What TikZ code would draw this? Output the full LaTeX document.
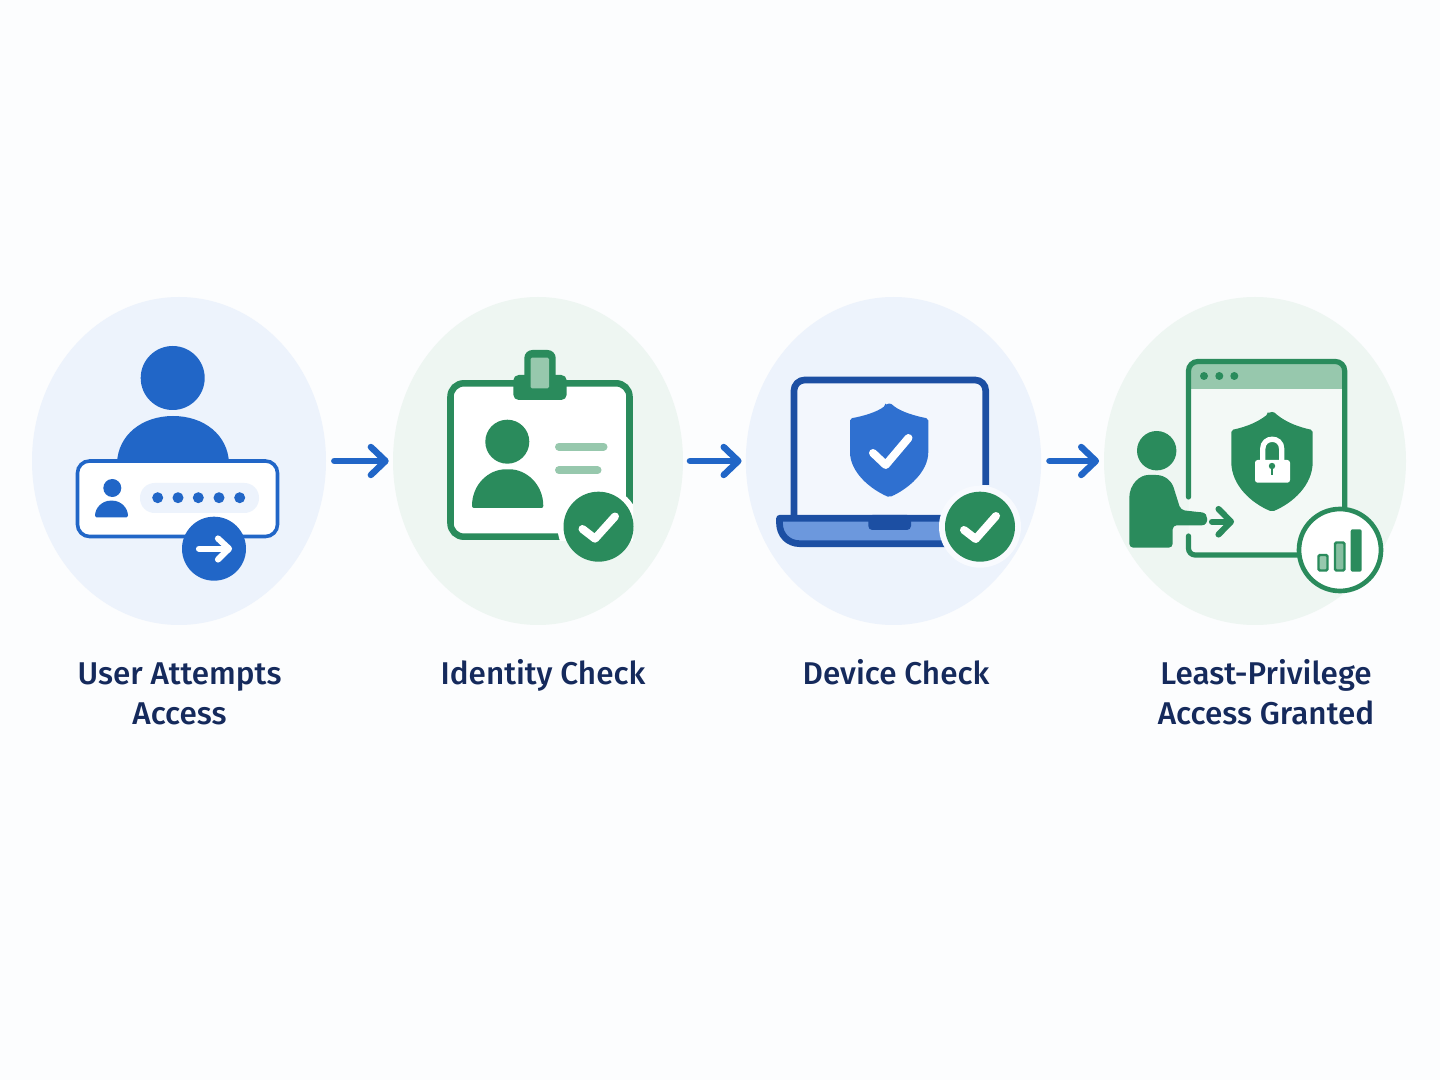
\documentclass[tikz,border=0pt]{standalone}
\usepackage{fontspec}
\setmainfont{Noto Sans}
\IfFontExistsTF{Open Sans SemiBold}{\newfontfamily\labfont{Open Sans SemiBold}}{%
 \IfFontExistsTF{Fira Sans Medium}{\newfontfamily\labfont{Fira Sans Medium}}{%
  \newfontfamily\labfont{Open Sans}[UprightFont=*,BoldFont=*,FakeBold=1.2]}}
\usetikzlibrary{shapes.geometric,arrows.meta}
\definecolor{bgc}{HTML}{FCFDFE}
\definecolor{bluebg}{HTML}{EDF3FC}
\definecolor{greenbg}{HTML}{EEF6F2}
\definecolor{mainblue}{HTML}{2166C7}
\definecolor{darkblue}{HTML}{1C4FA3}
\definecolor{midblue}{HTML}{2F70D0}
\definecolor{paleblue}{HTML}{6C98DD}
\definecolor{maingreen}{HTML}{2A8B5C}
\definecolor{palegreen}{HTML}{97C8AD}
\definecolor{navy}{HTML}{152A5C}
\tikzset{
  disc/.style={ellipse,inner sep=0pt,minimum height=246pt,draw=none},
  flow/.style={line width=4.8pt,draw=mainblue,line cap=round,-{Straight Barb[length=11pt,width=21pt,round]}},
  lab/.style={font=\labfont\fontsize{23.6}{30}\selectfont,text=navy,align=center,inner sep=0pt,anchor=north,execute at begin node=\strut},
  gline/.style={draw=maingreen,line width=3.9pt,line cap=round},
  wcheck/.style={draw=white,line width=6pt,line cap=round,line join=round},
  wline/.style={draw=white,line width=4.6pt,line cap=round,line join=round},
}
\begin{document}
\begin{tikzpicture}[x=0.75pt,y=-0.75pt]
\useasboundingbox (0,0) rectangle (1440,1080);
\fill[bgc] (0,0) rectangle (1440,1080);
% discs
\node[disc,fill=bluebg,minimum width=220.5pt] (c1) at (179,461) {};
\node[disc,fill=greenbg,minimum width=217.5pt] (c2) at (538,461) {};
\node[disc,fill=bluebg,minimum width=221.5pt] (c3) at (893.5,461) {};
\node[disc,fill=greenbg,minimum width=226.5pt] (c4) at (1255,461) {};
% connectors
\draw[flow,shorten <=6pt,shorten >=3pt] (c1.east) -- (c2.west);
\draw[flow,shorten <=5pt,shorten >=3pt] (c2.east) -- (c3.west);
\draw[flow,shorten <=6pt,shorten >=3.5pt] (c3.east) -- (c4.west);

% --- panel 1
\fill[mainblue] (172.7,378) circle (32);
\fill[mainblue] (117,463) .. controls (118,435) and (142,416) .. (173,416) .. controls (204,416) and (228,435) .. (229,463) -- cycle;
\draw[fill=white,draw=mainblue,line width=2.7pt,rounded corners=9pt] (77.5,461) rectangle (277.5,536.5);
\fill[mainblue] (112.3,488) circle (9);
\fill[mainblue,rounded corners=1pt] (95,517.3) .. controls (95,507) and (103,500.7) .. (111.5,500.7) .. controls (120,500.7) and (128,507) .. (128,517.3) -- cycle;
\fill[bluebg,rounded corners=11pt] (140,483) rectangle (259,513);
\foreach \x in {157.7,178,198.3,219,239.7} \fill[mainblue] (\x,497.7) circle (5.5);
\fill[mainblue] (214,548.7) circle (32);
\draw[wline] (199,548.7) -- (228,548.7);
\draw[wline] (218,538.5) -- (229,548.7) -- (218,559.5);

% --- panel 2
\draw[fill=white,draw=maingreen,line width=4.9pt,rounded corners=10pt] (450.5,383.3) rectangle (629.5,536.7);
\fill[maingreen,rounded corners=4pt] (513.3,375) rectangle (566.7,400);
\fill[maingreen,rounded corners=6pt] (524.3,350) rectangle (555.7,390);
\fill[palegreen,rounded corners=1pt] (530.7,357.7) rectangle (549,388.3);
\fill[maingreen] (507.3,441.7) circle (22);
\fill[maingreen,rounded corners=1.5pt] (472,508) .. controls (472,484) and (489,469.3) .. (507.6,469.3) .. controls (526,469.3) and (543.3,484) .. (543.3,508) -- cycle;
\draw[palegreen,line width=6pt,line cap=round] (559,446.7) -- (603.5,446.7);
\draw[palegreen,line width=6pt,line cap=round] (559,470.3) -- (597.5,470.3);
\begin{scope}
\clip (447,380) rectangle (633,541);
\fill[white] (598.5,526.7) circle (41);
\end{scope}
\fill[maingreen] (598.5,526.7) circle (35);
\draw[wcheck] (582.5,529) -- (595,538.7) -- (615,516.5);

% --- panel 3
\fill[bluebg!70!white] (794,380) rectangle (985.7,520);
\draw[darkblue,line width=5pt,rounded corners=8pt] (794,518) -- (794,380) -- (985.7,380) -- (985.7,485);
\draw[fill=paleblue,draw=darkblue,line width=5pt,line join=round]
  (785,518.3) -- (960,518.3) -- (960,543.7) -- (800,543.7) .. controls (788,543.7) and (779.5,535) .. (779.5,523) -- (779.5,518.3) -- cycle;
\fill[darkblue,rounded corners=3pt] (868.3,515) -- (868.3,530) -- (911,530) -- (911,515) -- cycle;
\fill[midblue,rounded corners=1.5pt] (885.5,405.5) .. controls (888,403.3) and (890.6,403.3) .. (893,405.5) .. controls (902,412) and (915,416) .. (928.3,418.5) -- (928.3,450) .. controls (928.3,472) and (908,489) .. (889.3,497.3) .. controls (870,489) and (850,472) .. (850,450) -- (850,418.5) .. controls (864,416) and (877,412) .. cycle;
\draw[wcheck] (873,453) -- (885.7,465) -- (908.5,438);
\fill[bluebg!40!white] (980,526.7) circle (41);
\fill[maingreen] (980,526.7) circle (35);
\draw[wcheck] (964,530) -- (975.7,539) -- (996,516);

% --- panel 4
\fill[greenbg!70!white,rounded corners=7pt] (1188.5,361.5) rectangle (1344.7,555);
\begin{scope}
\clip[rounded corners=7pt] (1188.5,361.5) rectangle (1344.7,555);
\fill[palegreen] (1188.5,361.5) rectangle (1344.7,389);
\end{scope}
\draw[gline,rounded corners=7pt] (1188.5,497) -- (1188.5,361.5) -- (1344.7,361.5) -- (1344.7,540);
\draw[gline,rounded corners=5pt] (1188.5,536) -- (1188.5,555) -- (1300,555);
\foreach \x in {1204,1219.3,1234.3} \fill[maingreen] (\x,376) circle (4);
\fill[maingreen,rounded corners=1.5pt] (1268,414) .. controls (1270.5,411.7) and (1273.5,411.7) .. (1276,414) .. controls (1286,422) and (1298,427) .. (1312.7,430) -- (1312.7,460) .. controls (1312.7,485) and (1293,503) .. (1272,511.7) .. controls (1251,503) and (1231.3,485) .. (1231.3,460) -- (1231.3,430) .. controls (1246,427) and (1258,422) .. cycle;
\draw[white,line width=4pt] (1262.7,461) -- (1262.7,449) .. controls (1262.7,436) and (1281.7,436) .. (1281.7,449) -- (1281.7,461);
\fill[white,rounded corners=2pt] (1255,460) rectangle (1290,482.7);
\fill[maingreen] (1272,466) circle (3.2);
\fill[maingreen] (1270.7,466) rectangle (1273.3,475.5);
\fill[maingreen] (1156.7,450.7) circle (19.7);
\fill[maingreen,rounded corners=3pt] (1129.3,547.7) -- (1129.3,502) .. controls (1129.3,484) and (1140,475) .. (1152,475) .. controls (1166,475) and (1172,482) .. (1175,492) -- (1180.7,510) -- (1198,512) .. controls (1209,513) and (1209,525.3) .. (1198,525.3) -- (1172.7,525.3) -- (1172.7,547.7) -- cycle;
\draw[gline,line width=4.6pt,line join=round] (1212,521.7) -- (1230,521.7);
\draw[gline,line width=4.6pt,line join=round] (1218.5,509) -- (1231,521.7) -- (1218.5,534.5);
\draw[fill=white,draw=maingreen,line width=3.5pt] (1340,550) circle (41);
\draw[fill=palegreen,draw=maingreen,line width=1.8pt,rounded corners=1pt] (1318.5,555) rectangle (1327.5,570.5);
\draw[fill=palegreen!85!maingreen,draw=maingreen,line width=1.8pt,rounded corners=1pt] (1335,542.5) rectangle (1344.5,570.5);
\fill[maingreen,rounded corners=1.5pt] (1350.7,529.3) rectangle (1361.7,571.7);

% --- labels
\node[lab] (t1) at (179.5,662) {User Attempts\\Access};
\node[lab] (t2) at (543,656) {Identity Check};
\node[lab] (t3) at (896,656) {Device Check};
\node[lab] (t4) at (1266,659) {Least-Privilege\\Access Granted};
\end{tikzpicture}
\end{document}
